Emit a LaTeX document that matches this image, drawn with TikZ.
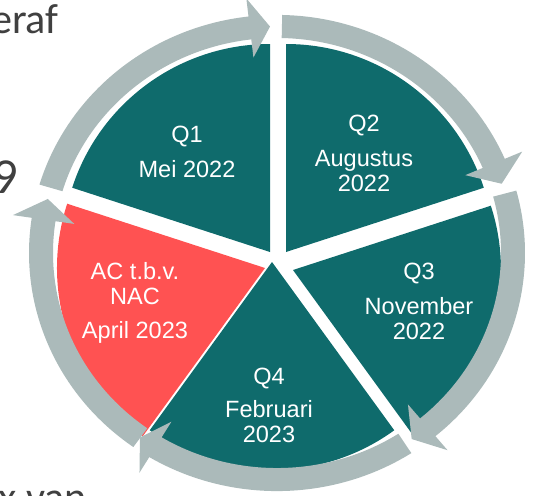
\documentclass[tikz,border=0pt]{standalone}
\usepackage{fontspec}
\setmainfont{Liberation Sans}
\newfontfamily\slidefont{Carlito}
\definecolor{petrol}{HTML}{0F6B6C}
\definecolor{coral}{HTML}{FF5252}
\definecolor{ringgray}{HTML}{ABBABA}
\definecolor{slidetext}{HTML}{404040}

\begin{document}
\begin{tikzpicture}[
    x=0.02cm, y=0.02cm,
    segment/.style={fill=petrol},
    highlight/.style={fill=coral},
    cyclearrow/.style={fill=ringgray},
    quarter/.style={
      text=white,
      align=center,
      anchor=north,
      inner sep=0pt,
      font=\fontsize{13.4}{14.2}\selectfont
    },
    backtext/.style={
      text=slidetext,
      inner sep=0pt,
      font=\slidefont\fontsize{24}{28}\selectfont
    }
]
\useasboundingbox (0,0) rectangle (535,495);

\coordinate (c1) at (270,243);
\coordinate (c2) at (286,243);
\coordinate (c3) at (293,225);
\coordinate (c4) at (272,233);
\coordinate (cac) at (265,227);

\fill[segment] (c1) -- ++(90:208) arc[start angle=90, end angle=162, radius=208] -- cycle;
\fill[segment] (c2) -- ++(18:208) arc[start angle=18, end angle=90, radius=208] -- cycle;
\fill[segment] (c3) -- ++(-54:208) arc[start angle=-54, end angle=18, radius=208] -- cycle;
\fill[segment] (c4) -- ++(234:208) arc[start angle=234, end angle=306, radius=208] -- cycle;
\fill[highlight] (cac) -- ++(162:208) arc[start angle=162, end angle=234, radius=208] -- cycle;

\begin{scope}[shift={(277,242)}, yscale=0.96]
\foreach \tail/\back/\tip in {163.3/96.6/91.7, 88.8/23.3/17.8, 15.2/-50.3/-55.2, -57.2/-121/-125.5, 234.6/171.5/166.2}
  \fill[cyclearrow] (\tail:248) arc[start angle=\tail, end angle=\back, radius=248]
    -- (\back:267) -- (\tip:236) -- (\back:205) -- (\back:224)
    arc[start angle=\back, end angle=\tail, radius=224] -- cycle;
\end{scope}

\node[quarter] (q1) at (187,369) {Q1\\[5.7pt]Mei 2022};
\node[quarter] (q2) at (364,380) {Q2\\[5.5pt]Augustus\\2022};
\node[quarter] (q3) at (419,232) {Q3\\[5.7pt]November\\2022};
\node[quarter] (q4) at (269,127) {Q4\\[4.5pt]Februari\\2023};
\node[quarter] (ac) at (135,233) {AC t.b.v.\\NAC\\[5.1pt]April 2023};

\node[backtext, anchor=base east] (title) at (59,462) {eraf};
\node[backtext, anchor=base east, font=\slidefont\fontsize{28.7}{32}\selectfont] (num) at (18,302) {9};
\node[backtext, anchor=base west] (bottom) at (-2,-16) {x van};

\end{tikzpicture}
\end{document}
